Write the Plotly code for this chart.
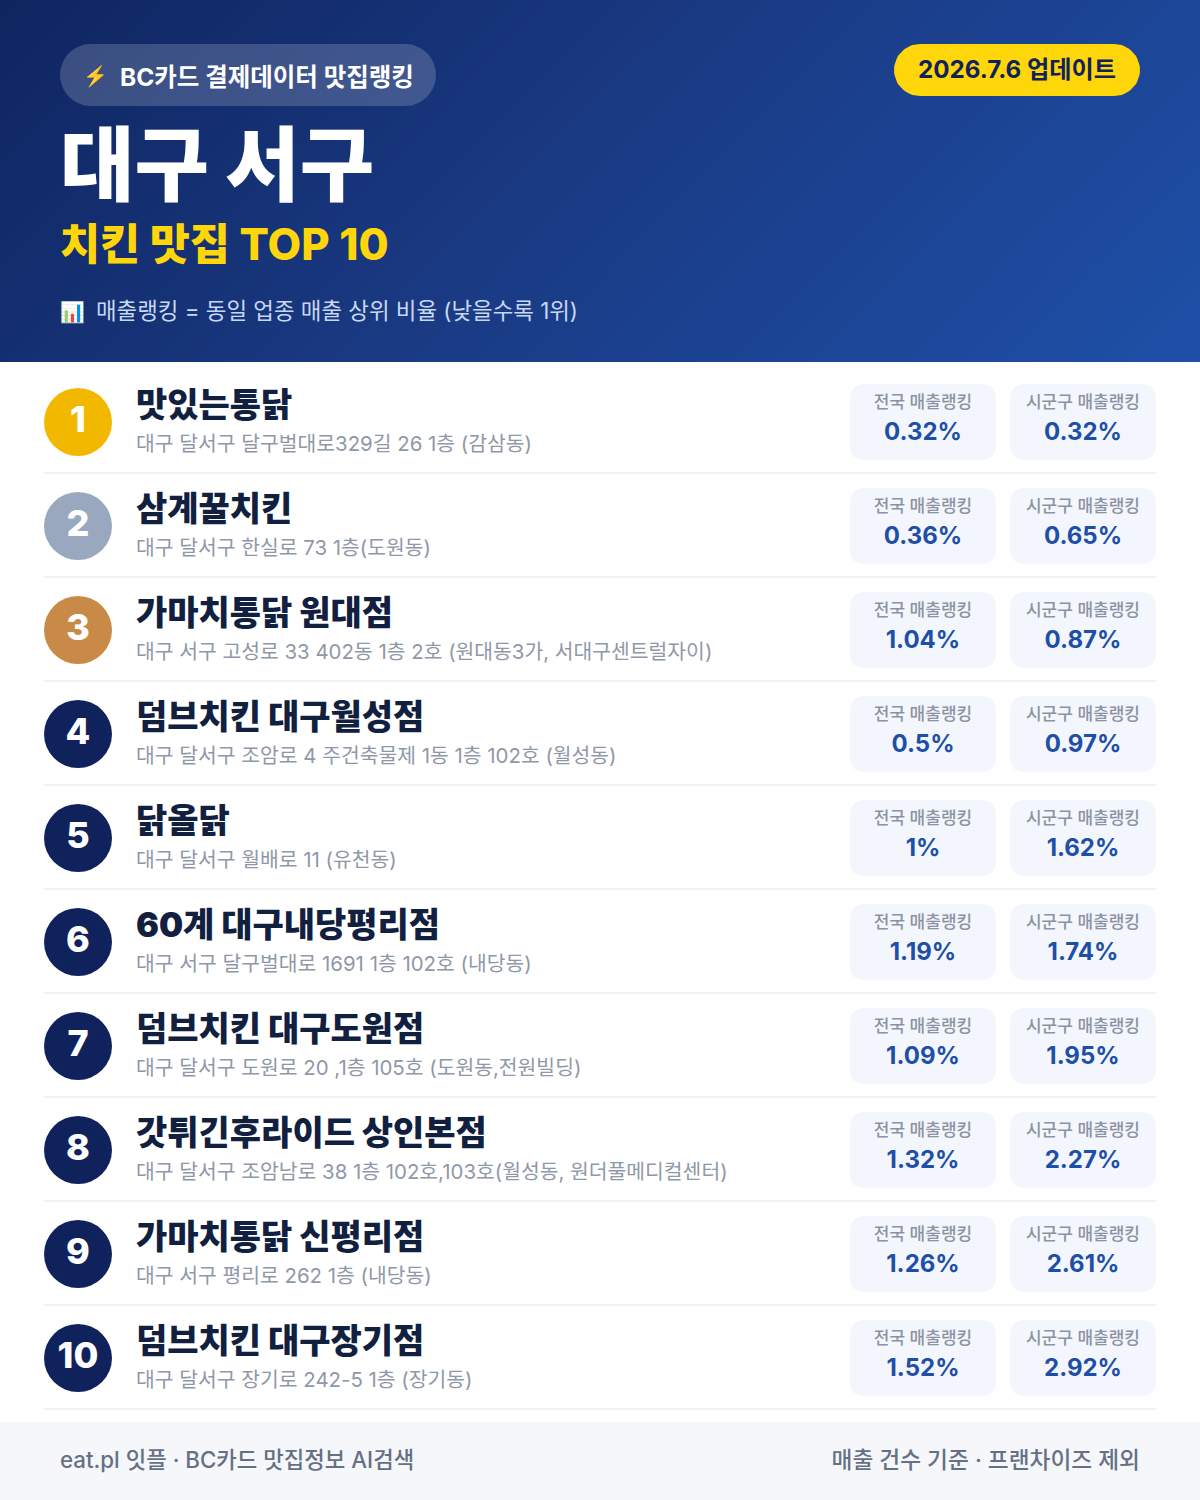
import math
import plotly.graph_objects as go

FONT = "Inter, 'Noto Sans CJK KR'"

ranks = ["1", "2", "3", "4", "5", "6", "7", "8", "9", "10"]
names = ["맛있는통닭", "삼계꿀치킨", "가마치통닭 원대점", "덤브치킨 대구월성점", "닭올닭",
         "60계 대구내당평리점", "덤브치킨 대구도원점", "갓튀긴후라이드 상인본점",
         "가마치통닭 신평리점", "덤브치킨 대구장기점"]
addresses = ["대구 달서구 달구벌대로329길 26 1층 (감삼동)",
             "대구 달서구 한실로 73 1층(도원동)",
             "대구 서구 고성로 33 402동 1층 2호 (원대동3가, 서대구센트럴자이)",
             "대구 달서구 조암로 4 주건축물제 1동 1층 102호 (월성동)",
             "대구 달서구 월배로 11 (유천동)",
             "대구 서구 달구벌대로 1691 1층 102호 (내당동)",
             "대구 달서구 도원로 20 ,1층 105호 (도원동,전원빌딩)",
             "대구 달서구 조암남로 38 1층 102호,103호(월성동, 원더풀메디컬센터)",
             "대구 서구 평리로 262 1층 (내당동)",
             "대구 달서구 장기로 242-5 1층 (장기동)"]
national = ["0.32%", "0.36%", "1.04%", "0.5%", "1%", "1.19%", "1.09%", "1.32%", "1.26%", "1.52%"]
district = ["0.32%", "0.65%", "0.87%", "0.97%", "1.62%", "1.74%", "1.95%", "2.27%", "2.61%", "2.92%"]
badge_colors = ["#f2b800", "#9aa8bf", "#c98a48"] + ["#10225c"] * 7

label_national = "전국 매출랭킹"
label_district = "시군구 매출랭킹"
header_tag = "BC카드 결제데이터 맛집랭킹"
update_text = "2026.7.6 업데이트"
title_text = "대구 서구"
subtitle_text = "치킨 맛집 TOP 10"
note_text = "매출랭킹 = 동일 업종 매출 상위 비율 (낮을수록 1위)"
footer_left = "eat.pl 잇플 · BC카드 맛집정보 AI검색"
footer_right = "매출 건수 기준 · 프랜차이즈 제외"

W, H, HEAD = 1200, 1500, 362
ROW0, STEP = 422, 104
row_y = [ROW0 + STEP * i for i in range(len(ranks))]


def rr_path(x0, y0, x1, y1, r):
    return (f"M{x0+r},{y0} L{x1-r},{y0} Q{x1},{y0} {x1},{y0+r} L{x1},{y1-r} Q{x1},{y1} {x1-r},{y1} "
            f"L{x0+r},{y1} Q{x0},{y1} {x0},{y1-r} L{x0},{y0+r} Q{x0},{y0} {x0+r},{y0} Z")


def rr_points(x0, y0, x1, y1, r):
    xs, ys = [], []
    for cx, cy, a0 in [(x1-r, y0+r, -90), (x1-r, y1-r, 0), (x0+r, y1-r, 90), (x0+r, y0+r, 180)]:
        for k in range(17):
            a = math.radians(a0 + 90 * k / 16)
            xs.append(cx + r * math.cos(a))
            ys.append(cy + r * math.sin(a))
    return xs + xs[:1], ys + ys[:1]


fig = go.Figure()

# header gradient (cell edges, so the block stops exactly at the header's bottom edge)
NX, NY = 300, 90
gx = [W * i / NX for i in range(NX + 1)]
gy = [HEAD * j / NY for j in range(NY + 1)]
gz = [[(W * (i + .5) / NX + HEAD * (j + .5) / NY) / (W + HEAD) for i in range(NX)] for j in range(NY)]
fig.add_trace(go.Heatmap(x=gx, y=gy, z=gz, zmin=0, zmax=1, showscale=False, hoverinfo="skip",
                         colorscale=[[0, "#0f2560"], [0.5, "#1a3b85"], [1, "#1e50a8"]]))


def text_trace(x, y, text, size, color, weight=400, pos="middle right"):
    fig.add_trace(go.Scatter(x=x, y=y, text=text, mode="text", textposition=pos, hoverinfo="skip",
                             textfont=dict(family=FONT, size=size, color=color, weight=weight)))


px, py = rr_points(60, 44, 436, 106, 31)
fig.add_trace(go.Scatter(x=px, y=py, mode="lines", fill="toself", line=dict(width=0),
                         fillcolor="rgba(255,255,255,0.18)", hoverinfo="skip"))
px, py = rr_points(894, 44, 1140, 96, 26)
fig.add_trace(go.Scatter(x=px, y=py, mode="lines", fill="toself", line=dict(width=0),
                         fillcolor="#ffd60a", hoverinfo="skip"))

text_trace([83], [78], ["⚡"], 20, "#ffc20a")
text_trace([120], [80], [header_tag], 24.5, "#ffffff", 700)
text_trace([1017], [71.5], [update_text], 24.2, "#10225c", 700, "middle center")
text_trace([60], [174], [title_text], 81, "#ffffff", 900)
text_trace([60], [249], [subtitle_text], 43.6, "#ffd60a", 800)
text_trace([60], [314], ["📊"], 20, "#ffffff")
text_trace([96], [313.5], [note_text], 22.4, "#c8d8f2", 400)

shapes = [dict(type="rect", xref="x", yref="y", x0=0, x1=W, y0=1422, y1=H, fillcolor="#f5f7fa",
               line_width=0, layer="below")]
for y in row_y:
    shapes.append(dict(type="rect", x0=44, x1=1156, y0=y + 50, y1=y + 52, fillcolor="#eff1f4",
                       line_width=0, layer="below"))
    for x0, x1 in [(850, 996), (1010, 1156)]:
        shapes.append(dict(type="path", path=rr_path(x0, y - 38, x1, y + 38, 15), fillcolor="#f3f6fc",
                           line_width=0, layer="below"))

# rank badges
fig.add_trace(go.Scatter(x=[78] * 10, y=row_y, mode="markers", marker=dict(size=68, color=badge_colors, line_width=0),
                         hoverinfo="skip"))
text_trace([78] * 10, [y + 1 for y in row_y], ranks, 36, "#ffffff", 800, "middle center")

text_trace([136] * 10, [y - 14 for y in row_y], names, 34, "#12203f", 900)
text_trace([136] * 10, [y + 24 for y in row_y], addresses, 20.4, "#8f98a8", 400)
text_trace([923] * 10, [y - 18 for y in row_y], [label_national] * 10, 17, "#8a93a3", 500, "middle center")
text_trace([1083] * 10, [y - 18 for y in row_y], [label_district] * 10, 17, "#8a93a3", 500, "middle center")
text_trace([923] * 10, [y + 12 for y in row_y], national, 24, "#1e4fa8", 700, "middle center")
text_trace([1083] * 10, [y + 12 for y in row_y], district, 24, "#1e4fa8", 700, "middle center")

text_trace([60], [1462], [footer_left], 22.3, "#667085", 500)
text_trace([1140], [1462], [footer_right], 22.7, "#667085", 500, "middle left")

fig.update_layout(width=W, height=H, margin=dict(l=0, r=0, t=0, b=0), showlegend=False,
                  paper_bgcolor="#ffffff", plot_bgcolor="#ffffff", shapes=shapes,
                  xaxis=dict(range=[0, W], visible=False, fixedrange=True),
                  yaxis=dict(range=[H, 0], visible=False, fixedrange=True))

fig.write_html("out.html", config=dict(displayModeBar=False),
               post_script="document.body.style.margin='0';document.body.style.overflow='hidden';")
